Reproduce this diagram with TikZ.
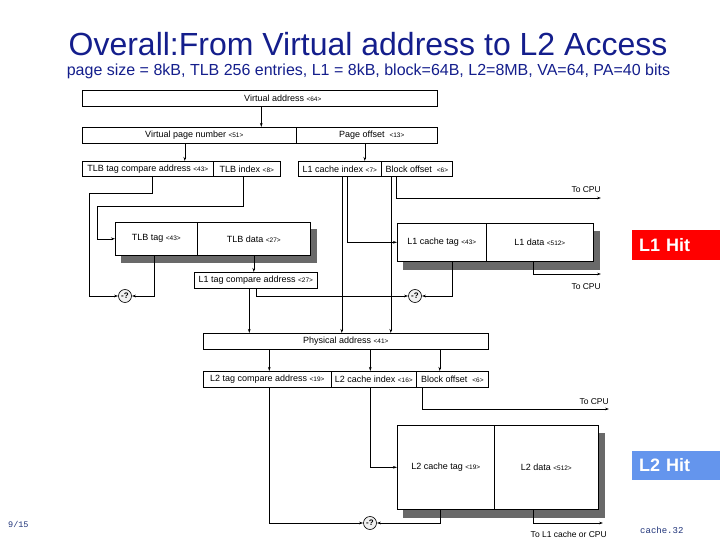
\documentclass[tikz,border=0pt]{standalone}
\usepackage{fontspec}
\setmainfont{Liberation Sans}
\newfontfamily\monof{Liberation Mono}
\usetikzlibrary{arrows.meta,backgrounds,calc}
\definecolor{titleblue}{RGB}{20,30,140}
\definecolor{shadowgray}{RGB}{105,105,105}
\definecolor{hitblue}{RGB}{100,149,237}
\definecolor{pageblue}{RGB}{30,50,120}
\newcommand{\bw}[1]{{\fontsize{6.5}{6.5}\selectfont #1}}
\begin{document}
\begin{tikzpicture}[x=1pt,y=-1pt,
  box/.style={draw, fill=white, inner sep=0pt, anchor=north west, font=\fontsize{9}{10}\selectfont, line width=0.6pt},
  bx/.style 2 args={minimum width=#1, minimum height=#2},
  arr/.style={line width=0.6pt, -{Stealth[length=4pt,width=2.6pt]}},
  lbl/.style={font=\fontsize{8.5}{10}\selectfont, inner sep=0pt},
  cmp/.style={circle, draw, line width=0.6pt, minimum size=13pt, inner sep=0pt, fill=gray!12, font=\bfseries\fontsize{8}{8}\selectfont},
  hit/.style={anchor=north west, minimum height=29.5pt, text width=74pt, inner xsep=7pt, inner ysep=0pt, align=left, text=white, font=\bfseries\fontsize{18}{18}\selectfont}]
\useasboundingbox (0,0) rectangle (720,540);

% title
\node[anchor=base, text=titleblue, font=\fontsize{32}{32}\selectfont, inner sep=0pt] (title) at (368,56) {Overall:From Virtual address to L2 Access};
\node[anchor=base, text=titleblue, font=\fontsize{16}{16}\selectfont, inner sep=0pt] (sub) at (368.5,76) {page size = 8kB, TLB 256 entries, L1 = 8kB, block=64B, L2=8MB, VA=64, PA=40 bits};

% boxes
\node[box, bx={355pt}{16pt}] (va) at (82,90) {\hspace*{46pt}Virtual address \bw{<64>}};
\node[box, bx={214pt}{16pt}] (vpn) at (82,127) {\hspace*{10pt}Virtual page number \bw{<51>}};
\node[box, bx={141pt}{16pt}] (po) at (296,127) {\hspace*{10pt}Page offset \ \bw{<13>}};
\node[box, bx={131pt}{15pt}] (tlbtag) at (82,161) {TLB tag compare address \bw{<43>}};
\node[box, bx={67pt}{15pt}] (tlbidx) at (213,161) {TLB index \bw{<8>}};
\node[box, bx={83pt}{15pt}] (l1idx) at (298,161) {L1 cache index \bw{<7>}};
\node[box, bx={71pt}{15pt}] (boff) at (381,161) {Block offset \ \bw{<6>}};
\node[box, bx={82pt}{33pt}] (tlbt) at (115,222) {TLB tag \bw{<43>}};
\node[box, bx={113pt}{33pt}] (tlbd) at (197,222) {TLB data \bw{<27>}};
\node[box, bx={123pt}{16pt}] (l1tca) at (194,272) {L1 tag compare address \bw{<27>}};
\node[box, bx={89pt}{38pt}] (l1t) at (397,223) {L1 cache tag \bw{<43>}};
\node[box, bx={107pt}{38pt}] (l1d) at (486,223) {L1 data \bw{<512>}};
\node[box, bx={285pt}{16pt}] (pa) at (203,333) {Physical address \bw{<41>}};
\node[box, bx={128pt}{16pt}] (l2tca) at (203,371) {L2 tag compare address \bw{<19>}};
\node[box, bx={85pt}{16pt}] (l2idx) at (331,371) {L2 cache index \bw{<16>}};
\node[box, bx={72pt}{16pt}] (l2boff) at (416,371) {Block offset \ \bw{<6>}};
\node[box, bx={97pt}{84pt}] (l2t) at (397,425) {L2 cache tag \bw{<19>}};
\node[box, bx={104pt}{84pt}] (l2d) at (494,425) {L2 data \bw{<512>}};

% shadows
\begin{scope}[on background layer]
\fill[shadowgray] ([shift={(6pt,-7pt)}]tlbt.north west) rectangle ([shift={(6pt,-7pt)}]tlbd.south east);
\fill[shadowgray] ([shift={(6pt,-8pt)}]l1t.north west) rectangle ([shift={(6pt,-8pt)}]l1d.south east);
\fill[shadowgray] ([shift={(6pt,-8pt)}]l2t.north west) rectangle ([shift={(6pt,-8pt)}]l2d.south east);
\end{scope}

% comparators
\node[cmp] (cmp1) at (125,296) {-?};
\node[cmp] (cmp2) at (415,296) {-?};
\node[cmp] (cmp3) at (370,523) {-?};

% outputs
\coordinate (cpu1) at (601,198);
\coordinate (cpu2) at (601,274);
\coordinate (cpu3) at (609,409);
\coordinate (cpu4) at (603,523);
\node[lbl, anchor=base east] (cpu1l) at (601,193) {To CPU};
\node[lbl, anchor=base east] (cpu2l) at (601,289) {To CPU};
\node[lbl, anchor=base east] (cpu3l) at (609,404) {To CPU};
\node[lbl, anchor=base east] (cpu4l) at (607,537) {To L1 cache or CPU};

% connectors
\draw[arr] ([xshift=1.5pt]va.south) -- ($(va.south |- vpn.north)+(1.5,0)$);
\draw[arr] ([xshift=-4.5pt]vpn.south) -- ($(vpn.south |- tlbtag.north)+(-4.5,0)$);
\draw[arr] ([xshift=-2pt]po.south) -- ($(po.south |- l1idx.north)+(-2,0)$);

\draw[arr] ([xshift=4pt]tlbtag.south) -- ++(0,17) -- ++(-62.5,0) |- (cmp1.west);
\draw[arr] ([xshift=-4pt]tlbidx.south) -- ++(0,30) -| ([xshift=-18pt]tlbt.west) -- (tlbt.west);
\draw[arr] ([xshift=-2pt]tlbt.south) |- (cmp1.east);
\draw[arr] (tlbd.south) -- (l1tca.north -| tlbd.south);
\draw[arr] (l1tca.south) |- (cmp2.west);
\draw[arr] ([xshift=-6.5pt]l1tca.south) -- ($(l1tca.south |- pa.north)+(-6.5,0)$);

\draw[arr] ([xshift=2pt]l1idx.south) -- ($(l1idx.south |- pa.north)+(2,0)$);
\draw[arr] ([xshift=7pt]l1idx.south) |- (l1t.west);
\draw[arr] ([xshift=-26pt]boff.south) -- ($(boff.south |- pa.north)+(-26,0)$);
\draw[arr] ([xshift=-21pt]boff.south) |- (cpu1);
\draw[arr] ([xshift=10pt]l1t.south) |- (cmp2.east);
\draw[arr] ([xshift=-7pt]l1d.south) |- (cpu2);

\draw[arr] ($(l2tca.north |- pa.south)+(2,0)$) -- ([xshift=2pt]l2tca.north);
\draw[arr] ($(l2idx.north |- pa.south)+(-3.5,0)$) -- ([xshift=-3.5pt]l2idx.north);
\draw[arr] ($(l2boff.north |- pa.south)+(-12.5,0)$) -- ([xshift=-12.5pt]l2boff.north);

\draw[arr] ([xshift=2pt]l2tca.south) |- (cmp3.west);
\draw[arr] ([xshift=-4pt]l2idx.south) |- (l2t.west);
\draw[arr] ([xshift=-30pt]l2boff.south) |- (cpu3);
\draw[arr] ([xshift=-6pt]l2t.south) |- (cmp3.east);
\draw[arr] ([xshift=-13pt]l2d.south) |- (cpu4);

% hit labels
\node[hit, fill=red] (l1hit) at (632,230) {L1 Hit};
\node[hit, fill=hitblue] (l2hit) at (632,450.5) {L2 Hit};

% footer
\node[anchor=base west, text=pageblue, font=\monof\fontsize{8.5}{9}\selectfont, inner sep=0pt] (pg) at (8,527) {9/15};
\node[anchor=base west, text=pageblue, font=\monof\fontsize{9}{9}\selectfont, inner sep=0pt] (cn) at (640,533) {cache.32};
\end{tikzpicture}
\end{document}
